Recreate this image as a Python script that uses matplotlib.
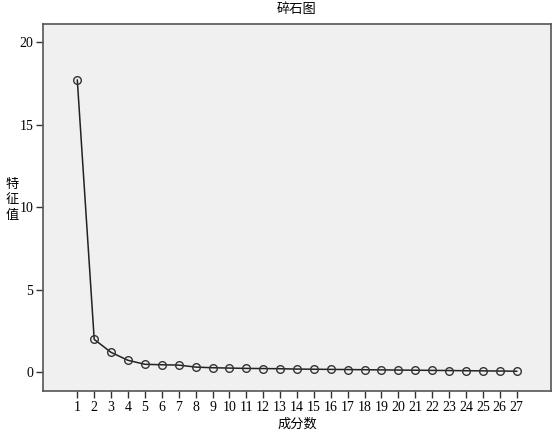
import matplotlib
matplotlib.use('Agg')
import matplotlib.pyplot as plt

plt.rcParams['font.family'] = ['Liberation Serif', 'Noto Sans CJK SC', 'DejaVu Sans']

# scree plot data
components = list(range(1, 28))
eigenvalues = [17.7, 1.98, 1.19, 0.71, 0.47, 0.44, 0.42, 0.30, 0.26, 0.24,
               0.22, 0.21, 0.20, 0.18, 0.17, 0.16, 0.15, 0.14, 0.13, 0.12,
               0.11, 0.10, 0.09, 0.08, 0.07, 0.06, 0.05]
y_ticks = [0, 5, 10, 15, 20]

fig = plt.figure(figsize=(5.52, 4.34), dpi=100)
ax = fig.add_axes([43 / 552, 43 / 434, 508 / 552, 367 / 434])
ax.set_facecolor('#f0f0f0')

ax.plot(components, eigenvalues, color='#222222', linewidth=1.1,
        marker='o', markersize=5.5, markerfacecolor='none',
        markeredgecolor='#333333', markeredgewidth=1.0)

ax.set_xlim(-1.03, 29.03)
ax.set_ylim(-1.15, 21.1)
ax.set_xticks(components)
ax.set_yticks(y_ticks)
ax.tick_params(labelsize=10, length=5, width=1, color='#333333', pad=2)

for s in ax.spines.values():
    s.set_color('#555555')
    s.set_linewidth(1.2)

fig.text(297 / 552, 1 - 10 / 434, '碎石图', ha='center', va='center',
         fontsize=9.5, family=['Noto Sans CJK SC'])
fig.text(297 / 552, 1 - 424 / 434, '成分数', ha='center', va='center',
         fontsize=9.5, family=['Noto Sans CJK SC'])
fig.text(12 / 552, 1 - 200 / 434, '特\n征\n值', ha='center', va='center',
         fontsize=9.5, family=['Noto Sans CJK SC'], linespacing=1.3)

fig.savefig('out.png', dpi=100)
